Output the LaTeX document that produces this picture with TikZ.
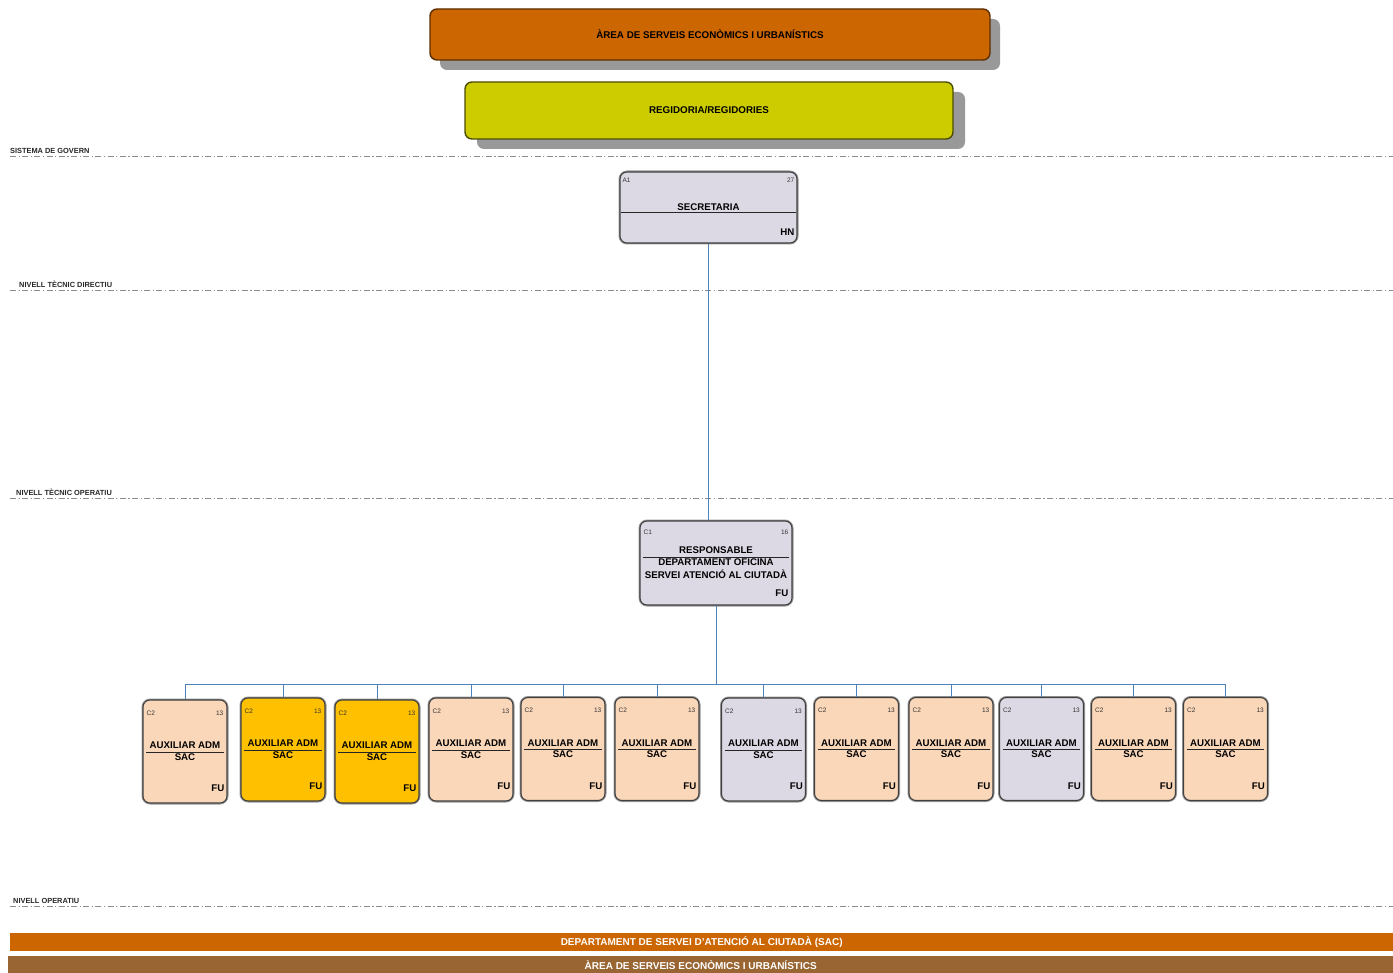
\documentclass[tikz,border=0pt]{standalone}
\usepackage{fontspec}
\setmainfont{Liberation Sans}
\usetikzlibrary{shadows}

\definecolor{areaor}{HTML}{CC6600}
\definecolor{areaborder}{HTML}{5C2E00}
\definecolor{regyel}{HTML}{CCCC00}
\definecolor{regborder}{HTML}{4D4D00}
\definecolor{peach}{HTML}{FAD7B9}
\definecolor{lila}{HTML}{DDD9E4}
\definecolor{gold}{HTML}{FFC000}
\definecolor{linkblue}{HTML}{4F81BD}
\definecolor{brownbar}{HTML}{996633}

\tikzset{
  topbox/.style={draw=#1, line width=1.4pt, rounded corners=7pt, inner sep=0pt,
    font=\bfseries\fontsize{9.8}{11}\selectfont},
  cargbox/.style={draw=black!75, line width=1.1pt, rounded corners=7pt, inner sep=0pt,
    preaction={draw=black!40, line width=3pt}},
  auxbox/.style={cargbox, minimum width=84pt, minimum height=103pt},
  tag/.style={inner sep=0pt, text=black!80, font=\fontsize{6.5}{7}\selectfont},
  ctitle/.style={inner sep=0pt, font=\bfseries\fontsize{9.7}{11}\selectfont},
  sep/.style={black!85, line width=1pt},
  link/.style={linkblue, line width=0.9pt},
  nivell/.style={black!45, line width=0.6pt, dash pattern=on 6pt off 2.5pt on 1.2pt off 2.5pt},
  nivtxt/.style={inner sep=0pt, text=black!85, font=\bfseries\fontsize{7.4}{8}\selectfont},
  bar/.style={inner sep=0pt, text=white, font=\bfseries\fontsize{10}{11}\selectfont}
}

\begin{document}
\begin{tikzpicture}[x=1pt,y=-1pt]
\useasboundingbox (0,0) rectangle (1393,973);
% nivells
\foreach \y/\lx/\txt [count=\n] in {156/10/SISTEMA DE GOVERN, 290/19/NIVELL TÈCNIC DIRECTIU,
    498/16/NIVELL TÈCNIC OPERATIU, 906/13/NIVELL OPERATIU}{
  \draw[nivell] (10,\y) -- (1393,\y);
  \node[nivtxt, anchor=base west] (niv\n) at (\lx,\y-2.5) {\txt};
}
% area i regidoria
\node[topbox=areaborder, fill=areaor, minimum width=560pt, minimum height=51pt,
  drop shadow={shadow xshift=10pt, shadow yshift=-10pt, fill=black!40, opacity=1}]
  (area) at (710,34.5) {ÀREA DE SERVEIS ECONÒMICS I URBANÍSTICS};
\node[topbox=regborder, fill=regyel, minimum width=488pt, minimum height=57pt,
  drop shadow={shadow xshift=12pt, shadow yshift=-10pt, fill=black!40, opacity=1}]
  (regid) at (709,110.5) {REGIDORIA/REGIDORIES};
% secretaria
\node[cargbox, fill=lila, minimum width=177pt, minimum height=71pt] (secr) at (708.5,207.5) {};
\node[tag, anchor=base west] (secrA) at ([shift={(3,11)}]secr.north west) {A1};
\node[tag, anchor=base east] (secrN) at ([shift={(-3,11)}]secr.north east) {27};
\node[ctitle, anchor=base] (secrT) at ([shift={(0,3.5)}]secr.center) {SECRETARIA};
\draw[sep] ([shift={(2,5.5)}]secr.west) -- ([shift={(-2,5.5)}]secr.east);
\node[ctitle, anchor=base east] (secrH) at ([shift={(-3,-8)}]secr.south east) {HN};
% responsable
\node[cargbox, fill=lila, minimum width=152pt, minimum height=84pt] (resp) at (716,563) {};
\node[tag, anchor=base west] (respA) at ([shift={(4,14)}]resp.north west) {C1};
\node[tag, anchor=base east] (respN) at ([shift={(-4,14)}]resp.north east) {16};
\node[ctitle, anchor=base] (respT) at ([shift={(0,-9.5)}]resp.center) {RESPONSABLE};
\draw[sep] ([shift={(4,-6)}]resp.west) -- ([shift={(-4,-6)}]resp.east);
\node[ctitle, anchor=base] (respD) at ([shift={(0,2.5)}]resp.center) {DEPARTAMENT OFICINA};
\node[ctitle, anchor=base] (respS) at ([shift={(0,15.5)}]resp.center) {SERVEI ATENCIÓ AL CIUTADÀ};
\node[ctitle, anchor=base east] (respF) at ([shift={(-4,-9.5)}]resp.south east) {FU};
\draw[link] (secr.south) -- (secr.south |- resp.north);
% auxiliars
\coordinate (bus) at (716,684);
\foreach \i/\x/\y/\c in {1/185/751.5/peach, 2/283/749.5/gold, 3/377/751.5/gold,
    4/471/749.5/peach, 5/563/749/peach, 6/657/749/peach, 7/763.5/749.5/lila,
    8/856.5/749/peach, 9/951/749/peach, 10/1041.5/749/lila, 11/1133.5/749/peach,
    12/1225.5/749/peach}{
  \node[auxbox, fill=\c] (aux\i) at (\x,\y) {};
  \node[tag, anchor=base west] (auxc\i) at ([shift={(4,16)}]aux\i.north west) {C2};
  \node[tag, anchor=base east] (auxn\i) at ([shift={(-4,16)}]aux\i.north east) {13};
  \node[ctitle, anchor=base] (auxt\i) at ([shift={(0,-3)}]aux\i.center) {AUXILIAR ADM};
  \draw[sep] ([shift={(4,0.5)}]aux\i.west) -- ([shift={(-4,0.5)}]aux\i.east);
  \node[ctitle, anchor=base] (auxs\i) at ([shift={(0,8.5)}]aux\i.center) {SAC};
  \node[ctitle, anchor=base east] (auxf\i) at ([shift={(-3,-12)}]aux\i.south east) {FU};
  \draw[link] (resp.south) |- (bus -| aux\i.north) -- (aux\i.north);
}
% barres inferiors
\node[bar, fill=areaor, minimum width=1383pt, minimum height=18pt, anchor=north west]
  (dept) at (10,933) {DEPARTAMENT DE SERVEI D'ATENCIÓ AL CIUTADÀ (SAC)};
\node[bar, fill=brownbar, minimum width=1385pt, minimum height=17pt, anchor=north west]
  (area2) at (8,956) {ÀREA DE SERVEIS ECONÒMICS I URBANÍSTICS};
\end{tikzpicture}
\end{document}
